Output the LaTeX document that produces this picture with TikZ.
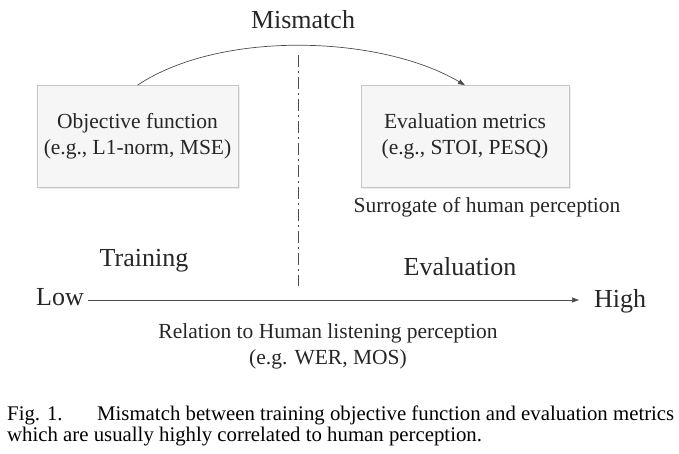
\documentclass[tikz,border=0pt]{standalone}
\usepackage{fontspec}
\setmainfont{Liberation Serif}
\usetikzlibrary{arrows.meta,shadows}
\begin{document}
\begin{tikzpicture}[x=1pt,y=-1pt,
  every node/.style={font=\fontsize{21.5}{26}\selectfont, text=black!85, inner sep=0pt},
  big/.style={font=\fontsize{26}{30}\selectfont},
  capt/.style={font=\fontsize{20.8}{24}\selectfont, text=black},
  box/.style={draw=gray!45, fill=gray!7, line width=0.6pt, align=center, minimum width=#1, minimum height=102, drop shadow={shadow xshift=2pt, shadow yshift=-2pt, fill=gray!25, opacity=0.6}},
  conn/.style={draw=black!70, line width=0.7pt, -{Triangle[length=7pt,width=5pt]}},
  lbl/.style={anchor=center}]
\useasboundingbox (0,0) rectangle (679,454);
\node[box=201] (obj) at (137.5,136.5) {Objective function\\(e.g., L1-norm, MSE)};
\node[box=208] (eval) at (465,136.5) {Evaluation metrics\\(e.g., STOI, PESQ)};
\node[lbl,big] (mis) at (303,20) {Mismatch};
\draw[conn] (obj.north) .. controls (220,30) and (380,35) .. (eval.north);
\coordinate (dtop) at (298,55);
\coordinate (dbot) at (298,286);
\draw[black!70, line width=1pt, dash pattern=on 12pt off 4pt on 2pt off 4pt] (dtop) -- (dbot);
\node[lbl] (sur) at (487,207) {Surrogate of human perception};
\node[lbl,big] (tr) at (144,261) {Training};
\node[lbl,big] (ev) at (460,267) {Evaluation};
\node[lbl,big] (low) at (60,297) {Low};
\node[lbl,big] (high) at (620,301) {High};
\draw[conn] (88,300) -- (579,300);
\node[lbl, align=center] (rel) at (328,346) {Relation to Human listening perception\\(e.g. WER, MOS)};
\node[anchor=base west, capt] (cap1) at (7,420) {Fig. 1.};
\node[anchor=base west, capt] (cap2) at (97,420) {Mismatch between training objective function and evaluation metrics};
\node[anchor=base west, capt] (cap3) at (7,441) {which are usually highly correlated to human perception.};
\end{tikzpicture}
\end{document}
